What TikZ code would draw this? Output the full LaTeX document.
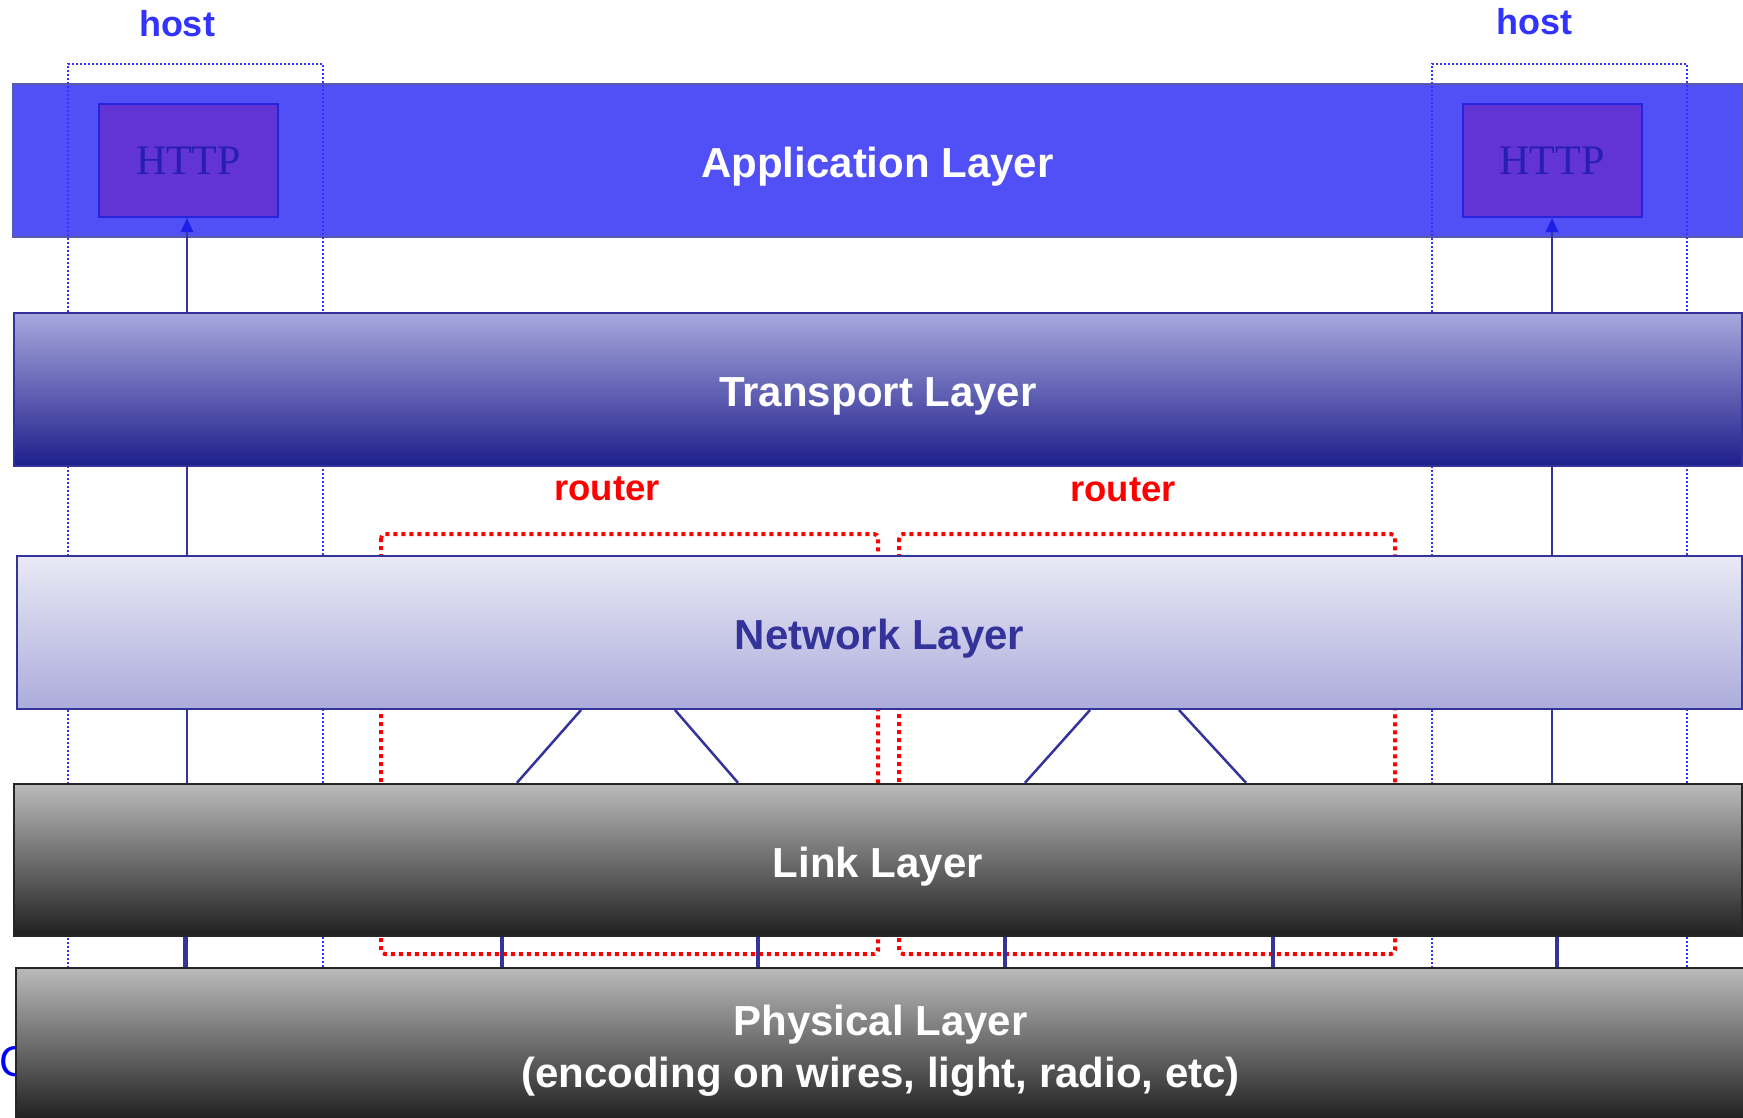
\documentclass[tikz,border=0pt]{standalone}
\usepackage{fontspec}
\setmainfont{Liberation Sans}
\newfontfamily\httpfont{Liberation Serif}
\usetikzlibrary{arrows.meta}

\definecolor{appblue}{RGB}{80,80,246}
\definecolor{appedge}{RGB}{90,90,170}
\definecolor{navy}{RGB}{51,51,153}
\definecolor{hostblue}{RGB}{51,51,255}
\definecolor{httpfill}{RGB}{98,52,214}
\definecolor{httpedge}{RGB}{36,36,220}
\definecolor{httptext}{RGB}{40,30,175}
\definecolor{tpTop}{RGB}{168,168,222}
\definecolor{tpMid}{RGB}{128,128,198}
\definecolor{tpBot}{RGB}{30,30,140}
\definecolor{nwTop}{RGB}{233,233,246}
\definecolor{nwMid}{RGB}{204,204,232}
\definecolor{nwBot}{RGB}{172,172,220}
\definecolor{grTop}{RGB}{186,186,186}
\definecolor{grMid}{RGB}{148,148,148}
\definecolor{grBot}{RGB}{32,32,32}
\definecolor{tipblue}{RGB}{30,30,230}

% layer captions sit a little below the geometric centre
\newcommand{\lowcap}[1]{\raisebox{-6.5pt}[30pt][9pt]{#1}}

\begin{document}
\begin{tikzpicture}[x=1pt,y=-1pt,
  layer/.style={line width=2pt, inner sep=0pt, minimum height=153pt,
    font=\bfseries\fontsize{42}{52}\selectfont, text=white, align=center},
  applayer/.style={layer, draw=appedge, fill=appblue},
  translayer/.style={layer, draw=navy, top color=tpTop, middle color=tpMid, bottom color=tpBot},
  netlayer/.style={layer, draw=navy, top color=nwTop, middle color=nwMid, bottom color=nwBot, text=navy},
  greylayer/.style={layer, draw=black!85, line width=2.5pt, top color=grTop, middle color=grMid, bottom color=grBot},
  httpbox/.style={draw=httpedge, line width=2pt, fill=httpfill, inner sep=0pt,
    minimum width=179pt, minimum height=113pt, text=httptext,
    font=\httpfont\fontsize{42}{42}\selectfont},
  hostline/.style={draw=hostblue, line width=2pt, dash pattern=on 2pt off 2pt},
  routerline/.style={draw=red, line width=4pt, dash pattern=on 4pt off 4pt, rounded corners=4pt},
  hostlabel/.style={text=hostblue, font=\bfseries\fontsize{36}{36}\selectfont},
  routerlabel/.style={text=red, font=\bfseries\fontsize{36.5}{36.5}\selectfont},
  wire/.style={draw=navy, line width=2.5pt},
  thickwire/.style={draw=navy, line width=4.5pt},
  uparrow/.style={wire, -{Triangle[length=14pt,width=12pt,color=tipblue]}}
]
\useasboundingbox (0,0) rectangle (1743,1117);

% host outlines (open at the bottom, reaching the physical layer)
\coordinate (hostLa) at (68,968);
\coordinate (hostLb) at (323,64);
\coordinate (hostLc) at (323,968);
\coordinate (hostRa) at (1432,968);
\coordinate (hostRb) at (1687,64);
\coordinate (hostRc) at (1687,968);

% router outlines sit behind the layers
\draw[routerline] (381,534) rectangle (878,954);
\draw[routerline] (899,534) rectangle (1395,954);

% partly hidden label at the left edge
\node[anchor=west, inner sep=0pt, text=blue, font=\fontsize{43}{43}\selectfont] (cut) at (-1,1062) {C};

% application layer and its HTTP boxes
\node[applayer, minimum width=1729pt] (app) at (877.5,160.5) {\lowcap{Application Layer}};
\draw[hostline] (hostLa) |- (hostLb) -- (hostLc);
\draw[hostline] (hostRa) |- (hostRb) -- (hostRc);
\node[httpbox] (httpL) at (188.5,160.5) {HTTP};
\node[httpbox] (httpR) at (1552,160.5) {HTTP};

% the other layers
\node[translayer, minimum width=1728pt] (trans) at (878,389.5) {\lowcap{Transport Layer}};
\node[netlayer, minimum width=1725pt] (net) at (879.5,632.5) {\lowcap{Network Layer}};
\node[greylayer, minimum width=1728pt, minimum height=152pt] (link) at (878,860) {\lowcap{Link Layer}};
\node[greylayer, minimum width=1729pt, minimum height=152pt] (phys) at (880.5,1044)
  {\lowcap{Physical Layer}\\\lowcap{(encoding on wires, light, radio, etc)}};

% labels
\node[hostlabel] (hostL) at (177,24) {host};
\node[hostlabel] (hostR) at (1534,22) {host};
\node[routerlabel] (routerL) at (607,489) {router};
\node[routerlabel] (routerR) at (1123,490) {router};

% host stacks
\coordinate (sL) at (187,0);
\coordinate (sLp) at (185.5,0);
\coordinate (sR) at (1552,0);
\coordinate (sRp) at (1557,0);
\draw[uparrow] (trans.north -| sL) -- (httpL.south -| sL);
\draw[uparrow] (trans.north -| sR) -- (httpR.south -| sR);
\draw[wire] (trans.south -| sL) -- (net.north -| sL);
\draw[wire] (trans.south -| sR) -- (net.north -| sR);
\draw[wire] (net.south -| sL) -- (link.north -| sL);
\draw[wire] (net.south -| sR) -- (link.north -| sR);
\draw[thickwire] (link.south -| sLp) -- (phys.north -| sLp);
\draw[thickwire] (link.south -| sRp) -- (phys.north -| sRp);

% router internals: network layer fanning out to two links
\coordinate (aTop1) at (581,0);  \coordinate (aBot1) at (517,0);
\coordinate (aTop2) at (675,0);  \coordinate (aBot2) at (738,0);
\coordinate (bTop1) at (1090,0); \coordinate (bBot1) at (1025,0);
\coordinate (bTop2) at (1179,0); \coordinate (bBot2) at (1246,0);
\draw[wire] (net.south -| aTop1) -- (link.north -| aBot1);
\draw[wire] (net.south -| aTop2) -- (link.north -| aBot2);
\draw[wire] (net.south -| bTop1) -- (link.north -| bBot1);
\draw[wire] (net.south -| bTop2) -- (link.north -| bBot2);

% router ports down to the physical layer
\foreach \px [count=\i] in {502,758,1005,1273} {
  \coordinate (port\i) at (\px,0);
  \draw[thickwire] (link.south -| port\i) -- (phys.north -| port\i);
}
\end{tikzpicture}
\end{document}
